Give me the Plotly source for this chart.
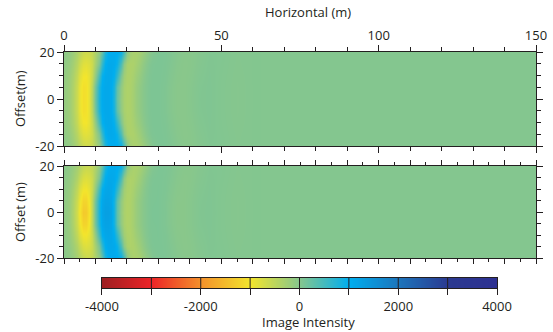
import plotly.graph_objects as go

# ---------------- data ----------------
horizontal_m = [0, 1, 2, 3, 4, 5, 6, 7, 8, 9, 10, 11, 12, 13, 14, 15, 16, 17, 18, 19, 20,
                21, 22, 23, 24, 25, 26, 27, 28, 30, 32, 34, 36, 38, 40, 43, 46, 50, 55, 60, 70, 150]
offset_m = [-20, -15, -10, -5, 0, 5, 10, 15, 20]

# upper panel: image intensity per offset row
top_row_20 = [-80, -100, -140, -220, -350, -500, -620, -670, -650, -560, -400, -150, 250, 750, 980, 1030, 1040, 1020, 900, 450,
              -50, -260, -330, -340, -290, -210, -130, -55, 5, 50, 50, 25, -10, -35, -40, -10, 20, 18, -5, 5, 0, 0]
top_row_15 = [-110, -140, -190, -290, -470, -680, -820, -850, -800, -650, -330, 50, 600, 980, 1080, 1090, 1060, 900, 420, -100,
              -320, -370, -360, -300, -210, -120, -45, 12, 45, 55, 45, 15, -25, -45, -38, 0, 25, 15, -8, 5, 0, 0]
top_row_10 = [-140, -175, -240, -360, -580, -840, -980, -1000, -880, -600, -150, 450, 950, 1080, 1100, 1080, 950, 600, 60, -260,
              -360, -370, -320, -235, -145, -65, -5, 32, 50, 55, 40, 0, -35, -45, -30, 10, 28, 12, -12, 5, 0, 0]
top_row_5 = [-150, -188, -258, -395, -640, -920, -1075, -1050, -870, -480, 100, 740, 1040, 1100, 1100, 1055, 790, 250, -120, -320,
             -378, -362, -295, -195, -103, -38, 8, 38, 55, 55, 32, -12, -43, -45, -22, 18, 30, 10, -15, 5, 0, 0]
top_row_0 = [-150, -190, -260, -400, -650, -930, -1080, -1050, -860, -450, 150, 780, 1050, 1100, 1100, 1050, 750, 200, -150, -330,
             -380, -360, -290, -190, -100, -35, 10, 40, 55, 55, 30, -15, -45, -45, -20, 20, 30, 10, -15, 5, 0, 0]

# lower panel
bot_row_20 = [-55, -75, -110, -180, -290, -430, -550, -610, -600, -530, -390, -140, 260, 770, 1000, 1050, 1060, 1030, 910, 460,
              -50, -265, -338, -345, -295, -213, -132, -56, 5, 50, 50, 25, -10, -35, -40, -10, 20, 18, -5, 5, 0, 0]
bot_row_15 = [-75, -105, -150, -240, -410, -620, -770, -810, -770, -630, -330, 60, 620, 1000, 1100, 1110, 1080, 920, 430, -100,
              -325, -375, -365, -305, -212, -122, -46, 12, 45, 55, 45, 15, -25, -45, -38, 0, 25, 15, -8, 5, 0, 0]
bot_row_10 = [-95, -130, -190, -320, -550, -820, -970, -990, -880, -610, -150, 470, 980, 1120, 1150, 1120, 980, 620, 70, -260,
              -365, -378, -328, -240, -148, -68, -5, 34, 52, 58, 42, 0, -35, -46, -30, 10, 28, 12, -12, 5, 0, 0]
bot_row_5 = [-105, -145, -220, -380, -660, -970, -1200, -1190, -980, -520, 100, 760, 1110, 1200, 1200, 1140, 830, 270, -130, -330,
             -395, -368, -295, -195, -102, -37, 8, 40, 56, 58, 33, -12, -45, -46, -22, 18, 30, 10, -15, 5, 0, 0]
bot_row_0 = [-110, -150, -230, -400, -700, -1050, -1320, -1300, -1050, -520, 130, 800, 1150, 1250, 1250, 1180, 820, 240, -150, -340,
             -400, -370, -295, -195, -100, -35, 10, 42, 58, 60, 35, -15, -48, -48, -22, 20, 32, 10, -15, 5, 0, 0]

top_intensity = [top_row_20, top_row_15, top_row_10, top_row_5, top_row_0,
                 top_row_5, top_row_10, top_row_15, top_row_20]
bottom_intensity = [bot_row_20, bot_row_15, bot_row_10, bot_row_5, bot_row_0,
                    bot_row_5, bot_row_10, bot_row_15, bot_row_20]

x_tick_values = [0, 50, 100, 150]
x_tick_labels = ["0", "50", "100", "150"]
y_tick_values = [-20, 0, 20]
y_tick_labels = ["-20", "0", "20"]
colorbar_ticks = [-4000, -3000, -2000, -1000, 0, 1000, 2000, 3000, 4000]
colorbar_labels = ["-4000", "", "-2000", "", "0", "", "2000", "", "4000"]

# ---------------- style ----------------
INK = "#231f20"
FONT = dict(family="Open Sans, Noto Sans, sans-serif", size=13, color=INK)
colorscale = [[0.0, "#9e1f22"], [0.125, "#ec2327"], [0.25, "#f4922b"], [0.375, "#f3e52c"],
              [0.5, "#84c68f"], [0.625, "#00aeef"], [0.75, "#1c75bc"], [0.875, "#2b3990"],
              [1.0, "#2e3192"]]

fig = go.Figure()
common = dict(colorscale=colorscale, zmin=-4000, zmax=4000, showscale=False,
              zsmooth="best", hoverinfo="skip")
fig.add_trace(go.Heatmap(x=horizontal_m, y=offset_m, z=top_intensity, xaxis="x", yaxis="y", **common))
fig.add_trace(go.Heatmap(x=horizontal_m, y=offset_m, z=bottom_intensity, xaxis="x2", yaxis="y2", **common))
fig.add_trace(go.Heatmap(x=colorbar_ticks, y=[0, 1], z=[colorbar_ticks, colorbar_ticks],
                         xaxis="x3", yaxis="y3", **common))

axis_base = dict(showline=True, linecolor=INK, linewidth=1, mirror="ticks", ticks="outside",
                 tickcolor=INK, tickwidth=1, showgrid=False, zeroline=False, tickfont=FONT,
                 automargin=False)

fig.update_layout(
    width=553, height=332, autosize=False,
    margin=dict(l=64, r=17, t=52, b=44, autoexpand=False),
    paper_bgcolor="white", plot_bgcolor="white",
    font=FONT, showlegend=False,
    xaxis=dict(axis_base, domain=[0, 1], anchor="y", side="top", range=[0, 150],
               tickvals=x_tick_values, ticktext=x_tick_labels, ticklen=6,
               minor=dict(dtick=10, tick0=0, ticklen=4, ticks="outside", tickcolor=INK)),
    yaxis=dict(axis_base, domain=[0.6017, 1.0], anchor="x", range=[-20, 20],
               tickvals=y_tick_values, ticktext=y_tick_labels, ticklen=6,
               minor=dict(dtick=5, tick0=0, ticklen=4, ticks="outside", tickcolor=INK)),
    xaxis2=dict(axis_base, domain=[0, 1], anchor="y2", range=[0, 150], showticklabels=False,
                tick0=0, dtick=10, ticklen=5,
                minor=dict(dtick=5, tick0=0, ticklen=3, ticks="outside", tickcolor=INK)),
    yaxis2=dict(axis_base, domain=[0.1271, 0.5169], anchor="x2", range=[-20, 20],
                tickvals=y_tick_values, ticktext=y_tick_labels, ticklen=6,
                minor=dict(dtick=5, tick0=0, ticklen=4, ticks="outside", tickcolor=INK)),
    xaxis3=dict(showline=True, linecolor=INK, linewidth=1, mirror=True, ticks="outside",
                tickcolor=INK, ticklen=6, showgrid=False, zeroline=False, tickfont=FONT,
                automargin=False,
                domain=[0.0805, 0.9174], anchor="y3", range=[-4000, 4000],
                tickvals=colorbar_ticks, ticktext=colorbar_labels),
    yaxis3=dict(showline=True, linecolor=INK, linewidth=1, mirror=True, ticks="",
                showticklabels=False, showgrid=False, zeroline=False, automargin=False,
                domain=[0, 0.0424], anchor="x3", range=[0, 1]),
)

for v in colorbar_ticks[1:-1]:
    fig.add_shape(type="line", xref="x3", yref="y3 domain", x0=v, x1=v, y0=0, y1=1,
                  line=dict(color=INK, width=1))

fig.add_annotation(text="Horizontal (m)", xref="paper", yref="paper", x=0.518, y=1.169,
                   showarrow=False, font=FONT, xanchor="center", yanchor="middle")
fig.add_annotation(text="Offset(m)", xref="paper", yref="paper", x=-0.093, y=0.801,
                   textangle=-90, showarrow=False, font=FONT, xanchor="center", yanchor="middle")
fig.add_annotation(text="Offset (m)", xref="paper", yref="paper", x=-0.093, y=0.322,
                   textangle=-90, showarrow=False, font=FONT, xanchor="center", yanchor="middle")
fig.add_annotation(text="Image Intensity", xref="paper", yref="paper", x=0.517, y=-0.144,
                   showarrow=False, font=FONT, xanchor="center", yanchor="middle")

fig.write_html("out.html",
               config={"displayModeBar": False, "responsive": False},
               post_script="document.body.style.margin='0';document.body.style.overflow='hidden';")
